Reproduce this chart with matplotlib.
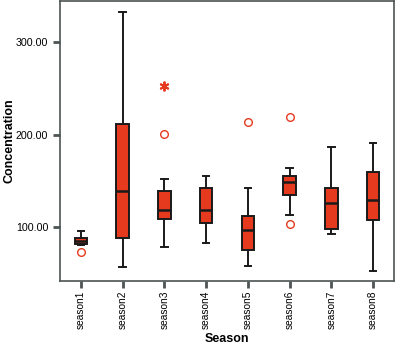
import matplotlib
matplotlib.use("Agg")
import matplotlib.pyplot as plt

plt.rcParams['font.family'] = ['Liberation Sans', 'DejaVu Sans']

seasons = ["season1", "season2", "season3", "season4",
           "season5", "season6", "season7", "season8"]
whisker_low = [80.0, 56.8, 78.0, 82.4, 57.2, 113.0, 92.4, 51.8]
q1 = [81.6, 87.8, 108.3, 104.7, 75.1, 134.3, 97.2, 107.2]
medians = [84.9, 139.4, 118.4, 118.1, 96.1, 148.6, 125.9, 128.9]
q3 = [88.1, 211.8, 138.9, 142.2, 111.9, 155.1, 142.2, 159.1]
whisker_high = [95.4, 333.2, 151.6, 155.1, 142.6, 163.8, 186.2, 190.8]
outliers = [[72.3], [], [200.5], [], [213.9], [219.4, 103.6], [], []]
extremes = [[], [], [252.4], [], [], [], [], []]

fill = '#e63a1f'
edge = '#1a1a1a'

stats = []
for i in range(len(seasons)):
    stats.append({
        'label': seasons[i],
        'whislo': whisker_low[i], 'q1': q1[i], 'med': medians[i],
        'q3': q3[i], 'whishi': whisker_high[i], 'fliers': outliers[i],
    })

fig = plt.figure(figsize=(3.95, 3.44), dpi=100)
ax = fig.add_axes([60 / 395, 63 / 344, 334 / 395, 280 / 344])

ax.bxp(stats, positions=range(1, len(seasons) + 1), widths=0.3,
       patch_artist=True, capwidths=0.16,
       boxprops=dict(facecolor=fill, edgecolor=edge, linewidth=1.4),
       medianprops=dict(color=edge, linewidth=1.8),
       whiskerprops=dict(color=edge, linewidth=1.4),
       capprops=dict(color=edge, linewidth=1.4),
       flierprops=dict(marker='o', markerfacecolor='none',
                       markeredgecolor=fill, markersize=5.5,
                       markeredgewidth=1.0))

for i, ex in enumerate(extremes):
    if ex:
        ax.plot([i + 1] * len(ex), ex, linestyle='none', marker=(6, 2, 0),
                markersize=7, markeredgecolor=fill, markeredgewidth=1.4)

ax.set_xlim(0.5, 8.5)
ax.set_ylim(41.3, 345)
ax.set_yticks([100, 200, 300])
ax.set_yticklabels(['100.00', '200.00', '300.00'])
ax.set_xticks(range(1, len(seasons) + 1))
ax.set_xticklabels(seasons, rotation=90)

for s in ax.spines.values():
    s.set_color('#4d5454')
    s.set_linewidth(1.2)
ax.tick_params(axis='both', color='#4d5454', width=2, length=5, labelsize=7.7)
ax.tick_params(axis='x', labelsize=7.3, pad=2)

ax.set_xlabel('Season', fontsize=9, fontweight='bold', va='center')
ax.set_ylabel('Concentration', fontsize=9, fontweight='bold', va='center')
ax.xaxis.set_label_coords(0.5, -0.207)
ax.yaxis.set_label_coords(-0.152, 0.5)

fig.savefig('out.png', dpi=100)
